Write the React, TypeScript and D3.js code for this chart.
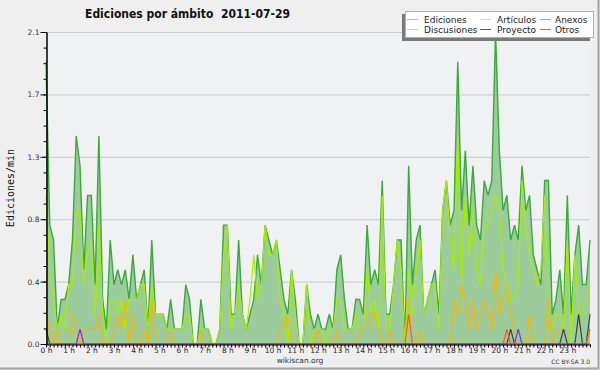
import React, { useEffect, useRef } from "react";
import * as d3 from "d3";

const W = 600;
const H = 370;
const plot = { left: 46, right: 590, top: 32, bottom: 344 };

// edits per minute, one value every 10 minutes from 0:00 to 24:00
const ediciones = [
  1.9, 0.8, 0.7, 0.1, 0.3, 0.3, 0.4, 0.7, 1.4, 1.2,
  0.5, 1.0, 1.0, 0.4, 1.4, 0.3, 0.1, 0.7, 0.4, 0.5,
  0.4, 0.5, 0.3, 0.6, 0.3, 0.4, 0.5, 0.1, 0.7, 0.2,
  0.2, 0.2, 0.1, 0.3, 0.1, 0.1, 0.1, 0.4, 0.3, 0.0,
  0.0, 0.3, 0.1, 0.1, 0.0, 0.0, 0.1, 0.8, 0.8, 0.2,
  0.2, 0.7, 0.2, 0.1, 0.2, 0.3, 0.6, 0.4, 0.8, 0.7,
  0.6, 0.7, 0.5, 0.3, 0.2, 0.5, 0.3, 0.0, 0.0, 0.4,
  0.2, 0.1, 0.2, 0.1, 0.1, 0.2, 0.1, 0.5, 0.6, 0.3,
  0.1, 0.1, 0.3, 0.3, 0.2, 0.8, 0.4, 0.5, 0.4, 1.1,
  0.2, 0.2, 0.4, 0.7, 0.7, 0.0, 1.2, 0.4, 0.7, 0.8,
  0.2, 0.3, 0.4, 0.5, 0.2, 0.9, 1.1, 0.8, 0.9, 1.9,
  0.9, 1.3, 0.8, 1.2, 0.8, 0.7, 1.1, 1.0, 1.1, 2.1,
  1.3, 0.9, 1.0, 0.7, 0.8, 0.7, 1.2, 0.9, 1.0, 0.6,
  0.5, 0.4, 1.1, 1.1, 0.2, 0.3, 0.5, 0.2, 1.0, 0.2,
  0.6, 0.8, 0.4, 0.4, 0.7,
];

const articulos = [
  1.0, 0.5, 0.3, 0.1, 0.2, 0.1, 0.4, 0.4, 0.9, 0.9,
  0.4, 0.6, 0.7, 0.2, 0.8, 0.2, 0.0, 0.3, 0.3, 0.2,
  0.3, 0.1, 0.3, 0.3, 0.3, 0.4, 0.4, 0.1, 0.4, 0.2,
  0.2, 0.2, 0.1, 0.1, 0.1, 0.1, 0.1, 0.2, 0.2, 0.0,
  0.0, 0.1, 0.1, 0.1, 0.0, 0.0, 0.1, 0.6, 0.8, 0.1,
  0.2, 0.4, 0.2, 0.1, 0.3, 0.6, 0.3, 0.4, 0.8, 0.6,
  0.6, 0.7, 0.3, 0.2, 0.0, 0.5, 0.2, 0.0, 0.0, 0.4,
  0.0, 0.1, 0.1, 0.1, 0.0, 0.1, 0.1, 0.3, 0.3, 0.1,
  0.1, 0.1, 0.2, 0.1, 0.1, 0.5, 0.2, 0.3, 0.1, 1.0,
  0.1, 0.1, 0.4, 0.7, 0.5, 0.0, 0.5, 0.2, 0.5, 0.7,
  0.2, 0.3, 0.4, 0.4, 0.1, 0.9, 1.1, 0.7, 0.5, 1.4,
  0.4, 1.0, 0.6, 0.9, 0.5, 0.4, 0.8, 0.8, 0.9, 1.0,
  0.9, 0.5, 0.4, 0.3, 0.3, 0.4, 1.1, 0.8, 0.6, 0.5,
  0.4, 0.5, 1.0, 0.2, 0.1, 0.2, 0.2, 0.1, 0.7, 0.0,
  0.6, 0.2, 0.2, 0.3, 0.4,
];

const discusiones = [
  0.2, 0.1, 0.0, 0.1, 0.0, 0.0, 0.0, 0.2, 0.1, 0.0,
  0.1, 0.1, 0.1, 0.1, 0.2, 0.0, 0.0, 0.0, 0.1, 0.2,
  0.1, 0.3, 0.0, 0.2, 0.0, 0.0, 0.1, 0.0, 0.3, 0.0,
  0.0, 0.0, 0.0, 0.1, 0.0, 0.0, 0.0, 0.0, 0.0, 0.0,
  0.0, 0.1, 0.0, 0.0, 0.0, 0.0, 0.0, 0.0, 0.0, 0.0,
  0.0, 0.0, 0.0, 0.0, 0.0, 0.0, 0.0, 0.0, 0.0, 0.0,
  0.0, 0.0, 0.1, 0.1, 0.2, 0.0, 0.0, 0.0, 0.0, 0.0,
  0.0, 0.0, 0.1, 0.0, 0.0, 0.0, 0.0, 0.1, 0.0, 0.0,
  0.0, 0.0, 0.0, 0.1, 0.1, 0.1, 0.2, 0.2, 0.1, 0.0,
  0.0, 0.1, 0.0, 0.0, 0.0, 0.0, 0.3, 0.0, 0.0, 0.1,
  0.0, 0.0, 0.0, 0.0, 0.0, 0.0, 0.0, 0.0, 0.3, 0.2,
  0.4, 0.3, 0.1, 0.3, 0.1, 0.2, 0.3, 0.2, 0.1, 0.5,
  0.2, 0.3, 0.4, 0.2, 0.1, 0.0, 0.0, 0.0, 0.2, 0.0,
  0.0, 0.0, 0.0, 0.3, 0.0, 0.1, 0.1, 0.1, 0.0, 0.0,
  0.0, 0.0, 0.0, 0.0, 0.0,
];

const anexos = [
  0, 0, 0, 0, 0, 0, 0, 0, 0, 0,
  0, 0, 0, 0, 0, 0, 0, 0, 0, 0,
  0, 0, 0, 0, 0, 0, 0, 0, 0, 0,
  0, 0, 0, 0, 0, 0, 0, 0, 0, 0,
  0, 0, 0, 0, 0, 0, 0, 0, 0, 0,
  0, 0, 0, 0, 0, 0, 0, 0, 0, 0,
  0, 0, 0, 0, 0, 0, 0, 0, 0, 0,
  0, 0, 0, 0, 0, 0, 0, 0, 0, 0,
  0, 0, 0, 0, 0, 0, 0, 0, 0, 0,
  0, 0, 0, 0, 0, 0, 0.2, 0, 0, 0,
  0, 0, 0, 0, 0, 0, 0, 0, 0, 0,
  0, 0, 0, 0, 0, 0, 0, 0, 0, 0,
  0, 0, 0.1, 0, 0, 0, 0, 0, 0, 0,
  0, 0, 0, 0, 0, 0, 0, 0, 0, 0,
  0, 0, 0, 0, 0.1,
];

const proyecto = [
  0.1, 0, 0, 0, 0, 0, 0, 0, 0, 0,
  0, 0, 0, 0, 0, 0, 0, 0, 0, 0,
  0, 0, 0, 0, 0, 0, 0, 0, 0, 0,
  0, 0, 0, 0, 0, 0, 0, 0, 0, 0,
  0, 0, 0, 0, 0, 0, 0, 0, 0, 0,
  0, 0, 0, 0, 0, 0, 0, 0, 0, 0,
  0, 0, 0, 0, 0, 0, 0, 0, 0, 0,
  0, 0, 0, 0, 0, 0, 0, 0, 0, 0,
  0, 0, 0, 0, 0, 0, 0, 0, 0, 0,
  0, 0, 0, 0, 0, 0, 0, 0, 0, 0,
  0, 0, 0, 0, 0, 0, 0, 0, 0, 0,
  0, 0, 0, 0, 0, 0, 0, 0, 0, 0,
  0, 0, 0, 0.1, 0, 0, 0, 0, 0, 0,
  0, 0, 0, 0, 0, 0, 0, 0.1, 0, 0,
  0, 0.2, 0, 0, 0.2,
];

const otros = [
  0, 0, 0, 0, 0, 0, 0, 0, 0, 0.1,
  0, 0, 0, 0, 0, 0, 0, 0, 0, 0,
  0, 0, 0, 0, 0, 0, 0, 0, 0, 0,
  0, 0, 0, 0, 0, 0, 0, 0, 0, 0,
  0, 0, 0, 0, 0, 0, 0, 0, 0, 0,
  0, 0, 0, 0, 0, 0, 0, 0, 0, 0,
  0, 0, 0, 0, 0, 0, 0, 0, 0, 0,
  0, 0, 0, 0, 0, 0, 0, 0, 0, 0,
  0, 0, 0, 0, 0, 0, 0, 0, 0, 0,
  0, 0, 0, 0, 0, 0, 0, 0, 0, 0,
  0, 0, 0, 0, 0, 0, 0, 0, 0, 0,
  0, 0, 0, 0, 0, 0, 0, 0, 0, 0,
  0, 0, 0, 0, 0, 0.1, 0, 0, 0, 0,
  0, 0, 0, 0, 0, 0, 0, 0, 0, 0,
  0, 0, 0, 0, 0,
];

const yTicks = [0, 0.42, 0.84, 1.26, 1.68, 2.1];
const yMinorTicks = d3.range(0, 21).map((k) => k * 0.105);

// lines drawn over the Ediciones area
const series = [
  { name: "Artículos", values: articulos, color: "#a8ee00" },
  { name: "Discusiones", values: discusiones, color: "#f5b800" },
  { name: "Proyecto", values: proyecto, color: "#404040" },
  { name: "Anexos", values: anexos, color: "#ff5a14" },
  { name: "Otros", values: otros, color: "#7a2cff" },
];

const legendItems = [
  { name: "Ediciones", color: "#88d888", col: 0, row: 0 },
  { name: "Artículos", color: "#c8ee70", col: 1, row: 0 },
  { name: "Anexos", color: "#ff8855", col: 2, row: 0 },
  { name: "Discusiones", color: "#ffcc55", col: 0, row: 1 },
  { name: "Proyecto", color: "#555555", col: 1, row: 1 },
  { name: "Otros", color: "#9966ff", col: 2, row: 1 },
];
const legendCols = [407, 480, 540];

function renderChart(svgEl) {
  const svg = d3.select(svgEl);
  svg.selectAll("*").remove();

  const minutes = ediciones.map((_, i) => i * 10);
  const x = d3.scaleLinear().domain([0, 1440]).range([plot.left, plot.right]);
  const y = d3.scaleLinear().domain([0, 2.1]).range([plot.bottom, plot.top]);

  svg.append("rect").attr("width", W).attr("height", H).attr("fill", "#efefef");
  svg.append("rect")
    .attr("x", plot.left).attr("y", plot.top)
    .attr("width", plot.right - plot.left).attr("height", plot.bottom - plot.top)
    .attr("fill", "#f0f1f3");

  // frame on right / bottom
  svg.append("path")
    .attr("d", `M${W - 1.5},0V${H - 1.5}H0`)
    .attr("fill", "none")
    .attr("stroke", "#a4a4a4")
    .attr("stroke-width", 2);

  // grid
  svg.append("g")
    .selectAll("line")
    .data(yTicks.slice(1))
    .join("line")
    .attr("x1", plot.left).attr("x2", plot.right)
    .attr("y1", (d) => y(d) + 0.5).attr("y2", (d) => y(d) + 0.5)
    .attr("stroke", "#cacaca");

  // Ediciones area
  const area = d3.area()
    .x((d, i) => x(minutes[i]))
    .y0(y(0))
    .y1((d) => y(d));
  const line = d3.line()
    .x((d, i) => x(minutes[i]))
    .y((d) => y(d));

  svg.append("path").datum(ediciones).attr("d", area).attr("fill", "#9ccb9c");
  svg.append("path").datum(ediciones).attr("d", line)
    .attr("fill", "none").attr("stroke", "#3aaa3a").attr("stroke-width", 1.4);

  series.forEach((s) => {
    svg.append("path").datum(s.values).attr("d", line)
      .attr("fill", "none").attr("stroke", s.color).attr("stroke-width", 1.2);
  });

  // axes
  const yMinor = d3.axisLeft(y).tickValues(yMinorTicks).tickSize(3).tickSizeOuter(0).tickFormat(() => "");
  const yMajor = d3.axisLeft(y).tickValues(yTicks).tickSize(6).tickSizeOuter(0).tickPadding(1)
    .tickFormat(d3.format(".1f"));
  const xAxis = d3.axisBottom(x)
    .tickValues(d3.range(0, 1441, 10))
    .tickSize(3)
    .tickSizeOuter(0)
    .tickPadding(0)
    .tickFormat((d) => (d % 60 === 0 && d < 1440 ? `${d / 60} h` : ""));

  svg.append("g").attr("transform", `translate(${plot.left + 0.5},0)`).call(yMinor);
  const gy = svg.append("g").attr("transform", `translate(${plot.left + 0.5},0)`);
  gy.call(yMajor);
  gy.selectAll("text")
    .attr("font-family", "DejaVu Sans").attr("font-size", 7.5).attr("fill", "#333");

  const gx = svg.append("g").attr("transform", `translate(0,${plot.bottom + 0.5})`);
  gx.call(xAxis);
  gx.selectAll("text")
    .attr("font-family", "DejaVu Sans").attr("font-size", 7.5).attr("fill", "#222");

  svg.selectAll(".domain, .tick line").attr("stroke", "#000");

  // title, one text so the two parts keep their gap
  svg.append("text")
    .attr("x", 85).attr("y", 18)
    .attr("font-family", "DejaVu Sans").attr("font-weight", "bold").attr("font-size", 12)
    .attr("textLength", 205).attr("lengthAdjust", "spacingAndGlyphs")
    .attr("fill", "#111")
    .style("white-space", "pre")
    .text("Ediciones por ámbito  2011-07-29");

  svg.append("text")
    .attr("transform", `translate(14,${(plot.top + plot.bottom) / 2}) rotate(-90)`)
    .attr("text-anchor", "middle")
    .attr("font-family", "DejaVu Sans Mono").attr("font-size", 10)
    .attr("fill", "#111")
    .text("Ediciones/min");

  svg.append("text")
    .attr("x", 300).attr("y", 363)
    .attr("text-anchor", "middle")
    .attr("font-family", "DejaVu Sans").attr("font-size", 7.5)
    .attr("fill", "#333")
    .text("wikiscan.org");

  svg.append("text")
    .attr("x", 590).attr("y", 364)
    .attr("text-anchor", "end")
    .attr("font-family", "DejaVu Sans").attr("font-size", 6)
    .attr("fill", "#333")
    .text("CC BY-SA 3.0");

  // legend
  const lg = svg.append("g");
  lg.append("rect").attr("x", 402).attr("y", 14).attr("width", 188).attr("height", 27).attr("fill", "#7a7a7a");
  lg.append("rect").attr("x", 405.5).attr("y", 11.5).attr("width", 188).attr("height", 26)
    .attr("fill", "#fff").attr("stroke", "#b0b0b0");
  const items = lg.selectAll("g.item").data(legendItems).join("g")
    .attr("class", "item")
    .attr("transform", (d) => `translate(${legendCols[d.col]},${19.5 + d.row * 10})`);
  items.append("line").attr("x1", 0).attr("x2", 11).attr("stroke", (d) => d.color).attr("stroke-width", 1);
  items.append("text")
    .attr("x", (d) => (d.col === 2 ? 15 : 17)).attr("y", 3)
    .attr("font-family", "DejaVu Sans").attr("font-size", 9)
    .attr("fill", "#222")
    .text((d) => d.name);
}

export default function App() {
  const svgRef = useRef(null);

  useEffect(() => {
    renderChart(svgRef.current);
  }, []);

  return (
    <svg
      ref={svgRef}
      width={W}
      height={H}
      style={{ position: "absolute", left: 0, top: 0, display: "block" }}
    />
  );
}
